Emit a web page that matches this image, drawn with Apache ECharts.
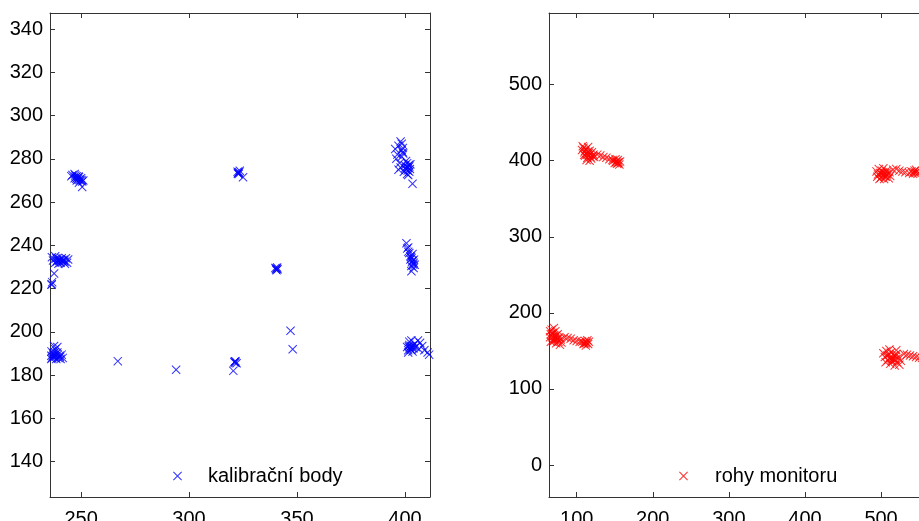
<!DOCTYPE html>
<html>
<head>
<meta charset="utf-8">
<script src="https://cdn.jsdelivr.net/npm/echarts@6/dist/echarts.min.js"></script>
<style>
html, body { margin: 0; padding: 0; background: #fff; }
#chart { width: 919px; height: 521px; }
</style>
</head>
<body>
<div id="chart"></div>
<script>
// kalibracni body [x, y]
var kalibracniBody = [
  // shluk 250/270
  [246, 272.5], [247, 273], [247.5, 271.5], [248, 272], [248.5, 270.5], [249, 271.5], [249.5, 270],
  [250, 271], [250.5, 269.5], [248, 270], [247, 271], [249, 269], [251, 270], [245.5, 272], [250.5, 267],
  [247.3, 272.3], [248.3, 271.2], [249.2, 270.4], [248.8, 271.8], [250.2, 270.2], [247.8, 270.8],
  // shluk 240/233
  [237, 233], [238, 232], [238.5, 234], [239, 233], [239.5, 231.5], [240, 233.5], [240.5, 232],
  [241, 234], [241.5, 232.5], [242, 233], [242.5, 231.5], [243, 234], [238, 235], [236.5, 234.5],
  [243.5, 232], [244, 233.5], [237.5, 227], [236.4, 222], [236.6, 223], [236.3, 221.8],
  [238.8, 232.6], [239.8, 232.8], [240.8, 233.2], [241.8, 233.4], [242.3, 232.4], [239.3, 234.2],
  // shluk 238/189
  [236.2, 189], [236.5, 188], [237, 190], [237.5, 188.5], [238, 189.5], [238.5, 187.5], [239, 190.5],
  [239.5, 188], [240, 189], [240.5, 187.5], [241, 189.5], [238, 192], [237.5, 193.5], [239, 193],
  [236.3, 191], [241.5, 188], [236.2, 187.5],
  [237.2, 189.2], [238.2, 188.6], [239.2, 189.4], [240.2, 188.4], [237.8, 190.6], [236.8, 188.8],
  // jednotlive body
  [267, 186.5], [294, 182.5], [320.5, 182], [347, 200.5], [348, 192],
  [321, 186], [321.5, 186.5], [322, 185.5], [321.5, 185.8], [321.2, 186.3],
  [322.5, 274], [323, 273], [323.5, 274.5], [322.8, 273.5], [323.2, 273.8], [322.6, 273.2], [325, 271.5],
  [340, 229.5], [340.5, 228.5], [341, 229], [340.3, 229], [340.8, 229.8], [340.6, 229.3],
  // shluk 400/280
  [395.5, 284.5], [396.5, 282], [397, 286], [398, 288], [398.5, 287], [396, 280], [397.5, 278],
  [397, 275], [399, 283], [398, 276],
  [400, 277], [400.5, 275], [401, 278], [401.5, 276], [402, 274], [402.5, 277.5], [401, 273],
  [400.5, 279], [402, 276.5], [401.5, 272.5], [399.5, 274], [398.5, 281], [398.5, 284], [399, 285],
  [400.8, 276.2], [401.3, 274.6], [401.8, 277.2], [400.2, 275.8], [402.3, 275.3], [399.2, 282.5],
  [403.5, 268.5],
  // shluk 403/235
  [400.7, 241], [401, 238.5], [401.5, 237], [402, 236.5], [402.5, 235], [403, 234], [403.5, 233],
  [404, 232], [404.5, 231], [403, 230.5], [404, 229.5], [402.5, 233.5], [403.5, 236], [401.5, 239],
  [403.2, 232.2], [403.8, 231.2], [402.8, 234.6], [404.2, 233.4], [403, 228],
  // shluk 403/192
  [401, 193], [401.5, 191.5], [402, 194], [402.5, 192], [403, 193.5], [403.5, 191], [404, 192.5],
  [404.5, 194.5], [402, 195.5], [403, 196], [405, 193], [401.5, 190.5], [406, 196], [407, 195],
  [402.2, 192.8], [402.8, 191.8], [403.3, 192.6], [401.8, 193.4], [403.8, 193.6],
  [408, 193.5], [409, 191.5], [410.5, 190.5], [411.2, 189.5], [406.5, 192]
];

// rohy monitoru [x, y]
var rohyMonitoru = [
  // levy horni
  [107, 414], [109, 417], [110, 411], [111, 407], [112, 415], [113, 410], [114, 404], [115, 418],
  [115, 412], [116, 407], [117, 413], [118, 409], [119, 403], [120, 411], [121, 406], [122, 408],
  [110, 408], [113, 401], [117, 400], [123, 405], [108, 419], [111, 413], [114, 408], [116, 410], [118, 405],
  [127, 408], [131, 407], [135, 405], [139, 404], [143, 402], [147, 401],
  [148, 400], [150, 397], [152, 399], [153, 396], [155, 398], [154, 401], [156, 395], [151, 402], [157, 399],
  [152, 398], [154, 397],
  // levy dolni
  [65, 176], [66, 172], [67, 178], [68, 168], [69, 174], [70, 164], [71, 170], [72, 176], [73, 160],
  [74, 166], [75, 172], [76, 162], [77, 168], [78, 158], [66, 162], [65, 168], [79, 165], [70, 180], [80, 161],
  [68, 172], [71, 166], [73, 170], [69, 162], [75, 165],
  [84, 168], [88, 167], [92, 166], [96, 164], [100, 163], [104, 162],
  [107, 162], [109, 159], [111, 163], [112, 157], [113, 161], [115, 159], [114, 164], [116, 162], [110, 160],
  [112, 160],
  // pravy horni
  [494, 386], [496, 382], [497, 389], [499, 384], [500, 378], [501, 387], [502, 381], [503, 390],
  [504, 376], [505, 384], [506, 379], [507, 387], [508, 382], [510, 377], [511, 385], [512, 380],
  [498, 376], [495, 379], [500, 383], [503, 385], [505, 380], [508, 385],
  [516, 388], [520, 389], [524, 387], [528, 386], [532, 385], [537, 384],
  [540, 386], [542, 383], [544, 387], [545, 384], [547, 386], [548, 383], [546, 388], [543, 385],
  // pravy dolni
  [503, 147], [505, 142], [507, 150], [509, 138], [510, 145], [512, 133], [513, 148], [514, 140],
  [515, 136], [517, 144], [518, 131], [519, 139], [520, 146], [521, 135], [523, 141], [524, 132],
  [526, 137], [511, 152], [506, 135], [508, 144], [512, 141], [516, 140], [519, 143], [514, 137],
  [520, 151], [530, 146], [534, 145], [538, 144], [542, 143], [546, 142], [550, 141], [554, 141]
];

// popisky os
var leftXTicks = [250, 300, 350, 400];
var leftYTicks = [140, 160, 180, 200, 220, 240, 260, 280, 300, 320, 340];
var rightXTicks = [100, 200, 300, 400, 500];
var rightYTicks = [0, 100, 200, 300, 400, 500];

var font = 'Liberation Sans';
var crossIcon = 'path://M0,0.8L0.8,0L5,4.2L9.2,0L10,0.8L5.8,5L10,9.2L9.2,10L5,5.8L0.8,10L0,9.2L4.2,5Z';

function axis(gridIndex, position, min, max, ticks, labels) {
  return {
    type: 'value',
    gridIndex: gridIndex,
    position: position,
    min: min,
    max: max,
    axisLine: { show: true, onZero: false, lineStyle: { color: '#333', width: 1 } },
    axisTick: { show: true, inside: true, length: 5, customValues: ticks, lineStyle: { color: '#333' } },
    axisLabel: {
      show: labels,
      customValues: ticks,
      fontSize: 20,
      fontFamily: font,
      color: '#000',
      margin: position == 'bottom' ? 12 : 7
    },
    splitLine: { show: false }
  };
}

var chart = echarts.init(document.getElementById('chart'));
var option = {
  animation: false,
  grid: [
    { left: 50, top: 13, width: 380, height: 484, outerBoundsMode: 'none', containLabel: false },
    { left: 549, top: 13, width: 380, height: 484, outerBoundsMode: 'none', containLabel: false }
  ],
  xAxis: [
    axis(0, 'bottom', 235.6, 411.6, leftXTicks, true),
    axis(0, 'top', 235.6, 411.6, leftXTicks, false),
    axis(1, 'bottom', 63.6, 563, rightXTicks, true),
    axis(1, 'top', 63.6, 563, rightXTicks, false)
  ],
  yAxis: [
    axis(0, 'left', 123.7, 347.4, leftYTicks, true),
    axis(0, 'right', 123.7, 347.4, leftYTicks, false),
    axis(1, 'left', -42, 594.2, rightYTicks, true),
    axis(1, 'right', -42, 594.2, rightYTicks, false)
  ],
  legend: [
    {
      data: ['kalibrační body'],
      left: 168, top: 461,
      icon: crossIcon, itemWidth: 9, itemHeight: 9,
      textStyle: { fontSize: 20, fontFamily: font, color: '#000', padding: [0, 0, 0, 21] }
    },
    {
      data: ['rohy monitoru'],
      left: 674, top: 461,
      icon: crossIcon, itemWidth: 9, itemHeight: 9,
      textStyle: { fontSize: 20, fontFamily: font, color: '#000', padding: [0, 0, 0, 22] }
    }
  ],
  series: [
    {
      name: 'kalibrační body',
      type: 'scatter',
      xAxisIndex: 0, yAxisIndex: 0,
      symbol: crossIcon, symbolSize: 9,
      itemStyle: { color: '#0000ff' },
      emphasis: { disabled: true },
      data: kalibracniBody
    },
    {
      name: 'rohy monitoru',
      type: 'scatter',
      xAxisIndex: 2, yAxisIndex: 2,
      symbol: crossIcon, symbolSize: 9,
      itemStyle: { color: '#ff0000' },
      emphasis: { disabled: true },
      data: rohyMonitoru
    }
  ]
};
chart.setOption(option);
</script>
</body>
</html>
